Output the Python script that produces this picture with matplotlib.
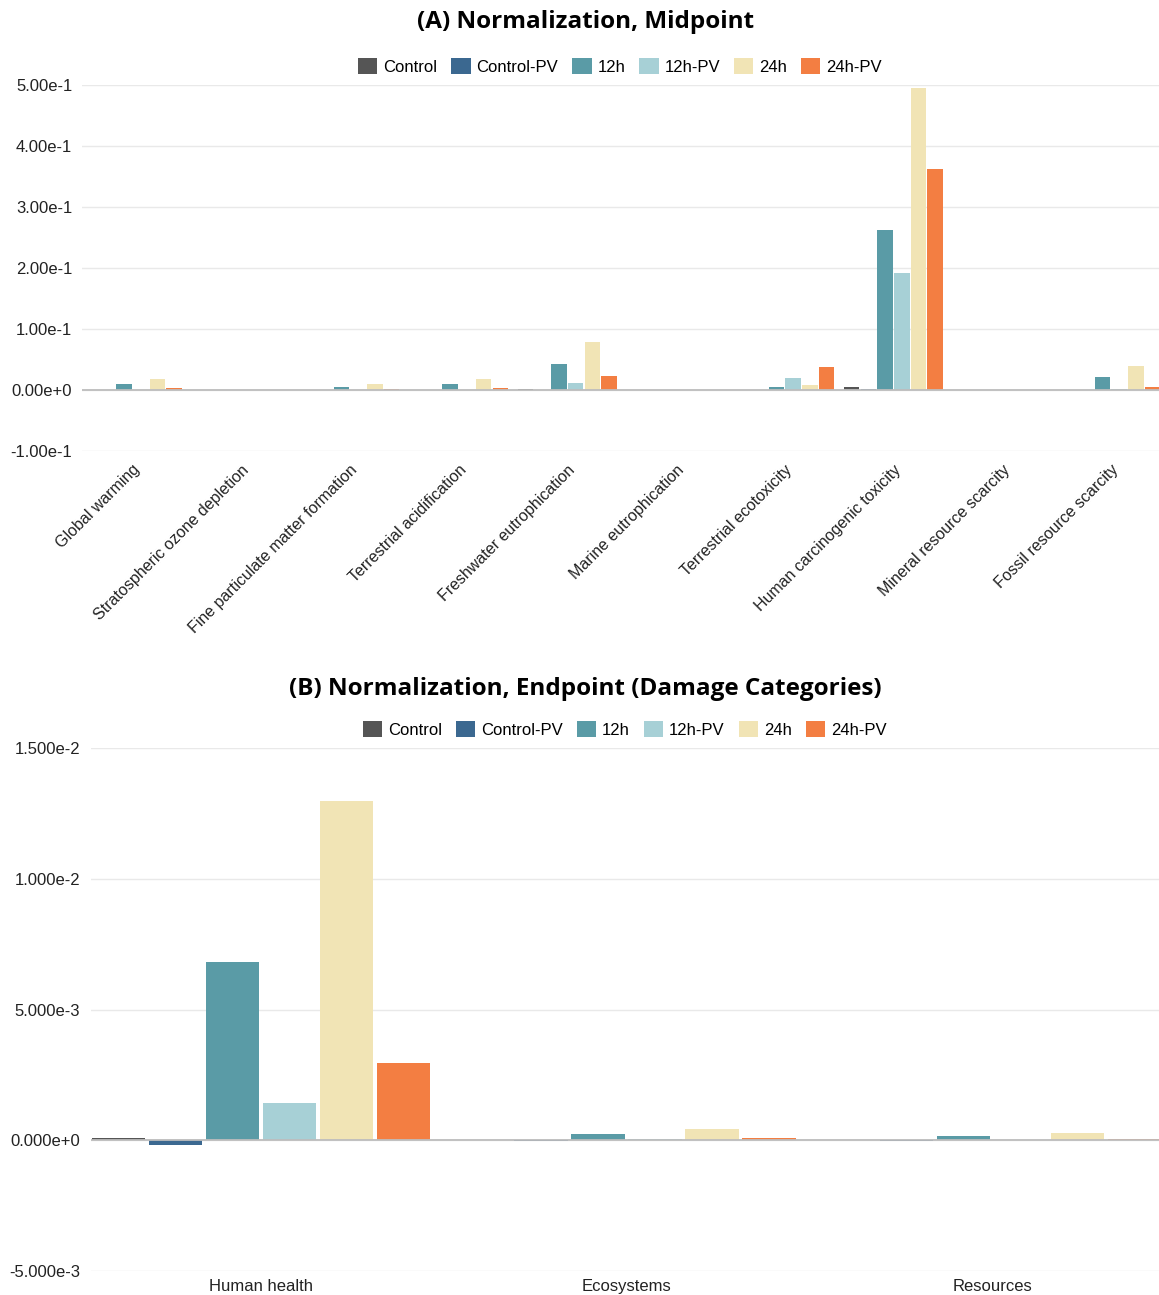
import numpy as np
import matplotlib.pyplot as plt
from matplotlib.patches import Patch

# Series names and colours
series = ['Control', 'Control-PV', '12h', '12h-PV', '24h', '24h-PV']
colors = ['#555555', '#3b6890', '#5a9ba6', '#a7d0d6', '#f1e4b5', '#f37e42']

# (A) midpoint normalization
mid_cats = ['Global warming', 'Stratospheric ozone depletion',
            'Fine particulate matter formation', 'Terrestrial acidification',
            'Freshwater eutrophication', 'Marine eutrophication',
            'Terrestrial ecotoxicity', 'Human carcinogenic toxicity',
            'Mineral resource scarcity', 'Fossil resource scarcity']
control_mid = [0.0003, 0.0, 0.0002, 0.0002, 0.002, 0.0, 0.0003, 0.0055, 0.0, 0.0008]
controlpv_mid = [0.0002, 0.0, 0.0001, 0.0001, 0.0008, 0.0, 0.0006, 0.0012, 0.0, 0.0006]
h12_mid = [0.0098, 0.0001, 0.0053, 0.0100, 0.042, 0.0002, 0.0043, 0.262, 0.0001, 0.0213]
h12pv_mid = [0.0005, 0.0001, 0.0005, 0.0006, 0.0115, 0.0005, 0.020, 0.192, 0.0001, 0.002]
h24_mid = [0.018, 0.0002, 0.0098, 0.018, 0.078, 0.0003, 0.008, 0.495, 0.0002, 0.039]
h24pv_mid = [0.003, 0.0001, 0.0018, 0.003, 0.0224, 0.0002, 0.038, 0.363, 0.0001, 0.0055]
mid_ticks = [-0.1, 0.0, 0.1, 0.2, 0.3, 0.4, 0.5]

# (B) endpoint normalization (damage categories)
end_cats = ['Human health', 'Ecosystems', 'Resources']
control_end = [0.0001, 0.00001, 0.000005]
controlpv_end = [-0.0002, -0.00002, -0.00001]
h12_end = [0.0068, 0.00023, 0.00017]
h12pv_end = [0.00144, 0.00003, 0.00002]
h24_end = [0.01296, 0.00042, 0.00028]
h24pv_end = [0.00297, 0.0001, 0.00004]
end_ticks = [-0.005, 0.0, 0.005, 0.01, 0.015]

plt.rcParams['font.family'] = ['Liberation Sans', 'DejaVu Sans']

W, H = 1159, 1295
fig = plt.figure(figsize=(W / 100, H / 100), dpi=100)


def px_axes(left, top, right, bottom):
    # axes placed in pixel coordinates (the right side runs past the figure edge)
    return fig.add_axes([left / W, 1 - bottom / H, (right - left) / W, (bottom - top) / H])


def sci(v, digits):
    s = f'{v:.{digits}e}'
    return s.replace('e-0', 'e-').replace('e+00', 'e+0')


def grouped_bars(ax, cats, values, step, width):
    x = np.arange(len(cats))
    for i, (vals, c) in enumerate(zip(values, colors)):
        ax.bar(x + (i - 2.5) * step, vals, width=width, color=c, zorder=3)
    ax.axhline(0, color='#bdbdbd', lw=1.3, zorder=4)
    for s in ax.spines.values():
        s.set_visible(False)
    ax.grid(axis='y', color='#e9e9e9', lw=1, zorder=0)
    ax.tick_params(length=0, labelsize=12, colors='#222222')
    return x


def add_legend(xc, y):
    handles = [Patch(facecolor=c, edgecolor='none', label=s) for s, c in zip(series, colors)]
    fig.legend(handles=handles, loc='center', bbox_to_anchor=(xc, y), ncol=6,
               frameon=False, fontsize=12, handlelength=1.15, handleheight=1.15,
               handletextpad=0.35, columnspacing=0.85)


# panel A: category width 108.7 px, first group centred at x=132.5 px
ax1 = px_axes(82, 85, 1165, 451)
x1 = grouped_bars(ax1, mid_cats,
                  [control_mid, controlpv_mid, h12_mid, h12pv_mid, h24_mid, h24pv_mid],
                  0.1536, 0.143)
x_lo = -(132.5 - 82) / 108.7
ax1.set_xlim(x_lo, x_lo + (1165 - 82) / 108.7)
ax1.set_ylim(-0.1, 0.5)
ax1.set_yticks(mid_ticks)
ax1.set_yticklabels([sci(v, 2) for v in mid_ticks])
ax1.set_xticks(x1)
ax1.set_xticklabels(mid_cats, rotation=45, ha='right', va='top', rotation_mode='anchor',
                    fontsize=11.5)
ax1.tick_params(axis='x', pad=8)
ax1.tick_params(axis='y', pad=7)

fig.text(0.505, 0.983, '(A) Normalization, Midpoint', ha='center', va='center',
         fontsize=17.5, fontweight='bold', family='Open Sans')
add_legend(0.535, 0.949)

# panel B: category width 365.5 px, first group centred at x=261 px
ax2 = px_axes(91, 748, 1170, 1271)
x2 = grouped_bars(ax2, end_cats,
                  [control_end, controlpv_end, h12_end, h12pv_end, h24_end, h24pv_end],
                  0.156, 0.147)
x_lo = -(261 - 91) / 365.5
ax2.set_xlim(x_lo, x_lo + (1170 - 91) / 365.5)
ax2.set_ylim(-0.005, 0.015)
ax2.set_yticks(end_ticks)
ax2.set_yticklabels([sci(v, 3) for v in end_ticks])
ax2.set_xticks(x2)
ax2.set_xticklabels(end_cats, fontsize=12)
ax2.tick_params(axis='x', pad=6)
ax2.tick_params(axis='y', pad=8)

fig.text(0.505, 0.468, '(B) Normalization, Endpoint (Damage Categories)', ha='center',
         va='center', fontsize=17.5, fontweight='bold', family='Open Sans')
add_legend(0.539, 0.437)

fig.savefig('out.png', dpi=100)
